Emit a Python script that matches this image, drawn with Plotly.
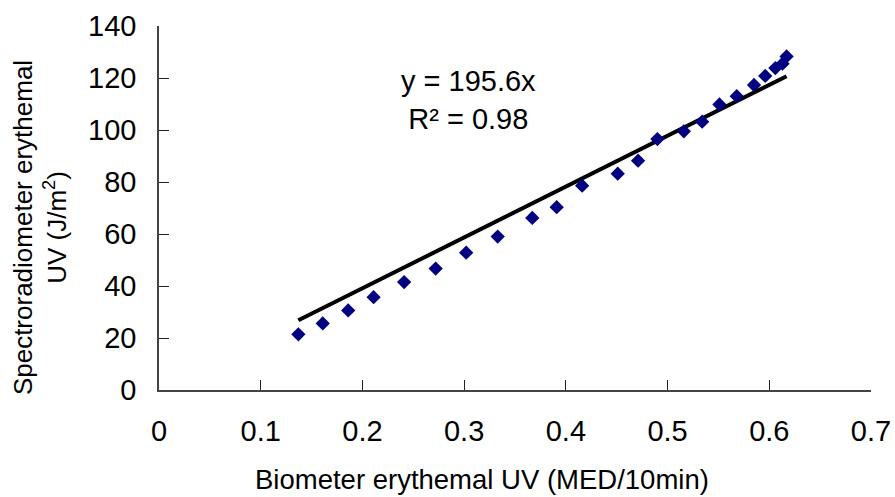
import plotly.graph_objects as go

biometer = [0.137, 0.161, 0.186, 0.211, 0.241, 0.272, 0.302, 0.333, 0.367, 0.391,
            0.416, 0.451, 0.471, 0.490, 0.516, 0.534, 0.551, 0.568, 0.585, 0.596,
            0.606, 0.613, 0.617]
spectro = [21.4, 25.6, 30.6, 35.7, 41.5, 46.7, 52.8, 59.0, 66.2, 70.3,
           78.6, 83.2, 88.2, 96.5, 99.5, 103.2, 109.8, 113.0, 117.3, 120.8,
           123.8, 125.5, 128.3]
slope = 195.6
r2 = 0.98

x_ticks = [0, 0.1, 0.2, 0.3, 0.4, 0.5, 0.6, 0.7]
y_ticks = [0, 20, 40, 60, 80, 100, 120, 140]

FONT = "Liberation Sans, Arial, sans-serif"

fit_x = [min(biometer), max(biometer)]
fit_y = [slope * v for v in fit_x]

fig = go.Figure()
fig.add_trace(go.Scatter(x=fit_x, y=fit_y, mode="lines",
                         line=dict(color="black", width=4), showlegend=False))
fig.add_trace(go.Scatter(x=biometer, y=spectro, mode="markers",
                         marker=dict(symbol="diamond", size=11, color="#000080",
                                     line=dict(width=0)), showlegend=False))

fig.add_annotation(x=0.304, y=111.7, xref="x", yref="y",
                   text=f"y = {slope}x<br>R² = {r2}", showarrow=False,
                   font=dict(family=FONT, size=29, color="black"), align="center")

fig.add_annotation(x=0.4537, y=-0.247, xref="paper", yref="paper",
                   text="Biometer erythemal UV (MED/10min)", showarrow=False,
                   font=dict(family=FONT, size=27.5, color="black"),
                   xanchor="center", yanchor="middle")
fig.add_annotation(x=-0.167, y=0.445, xref="paper", yref="paper",
                   text="Spectroradiometer erythemal<br>UV (J/m<sup>2</sup>)", showarrow=False,
                   textangle=-90,
                   font=dict(family=FONT, size=26, color="black"),
                   xanchor="center", yanchor="middle", align="center")

fig.update_layout(
    width=895, height=497,
    margin=dict(l=159, r=24, t=26, b=107, autoexpand=False),
    paper_bgcolor="white", plot_bgcolor="white",
    font=dict(family=FONT, color="black"),
)
fig.update_xaxes(range=[0, 0.7], tickvals=x_ticks, ticktext=[f"{v:g}" for v in x_ticks],
                 showgrid=False, zeroline=False, showline=True, linecolor="#444",
                 linewidth=1.5, ticks="inside", ticklen=10, tickcolor="#222",
                 tickfont=dict(family=FONT, size=29, color="black"),
                 ticklabelstandoff=14, automargin=False)
fig.update_yaxes(range=[0, 140], tickvals=y_ticks,
                 showgrid=False, zeroline=False, showline=True, linecolor="#444",
                 linewidth=1.5, ticks="inside", ticklen=10, tickcolor="#222",
                 tickfont=dict(family=FONT, size=29, color="black"),
                 ticklabelstandoff=15, automargin=False)

fig.write_html("out.html",
               config={"displayModeBar": False},
               post_script="document.body.style.margin='0';document.body.style.overflow='hidden';")
